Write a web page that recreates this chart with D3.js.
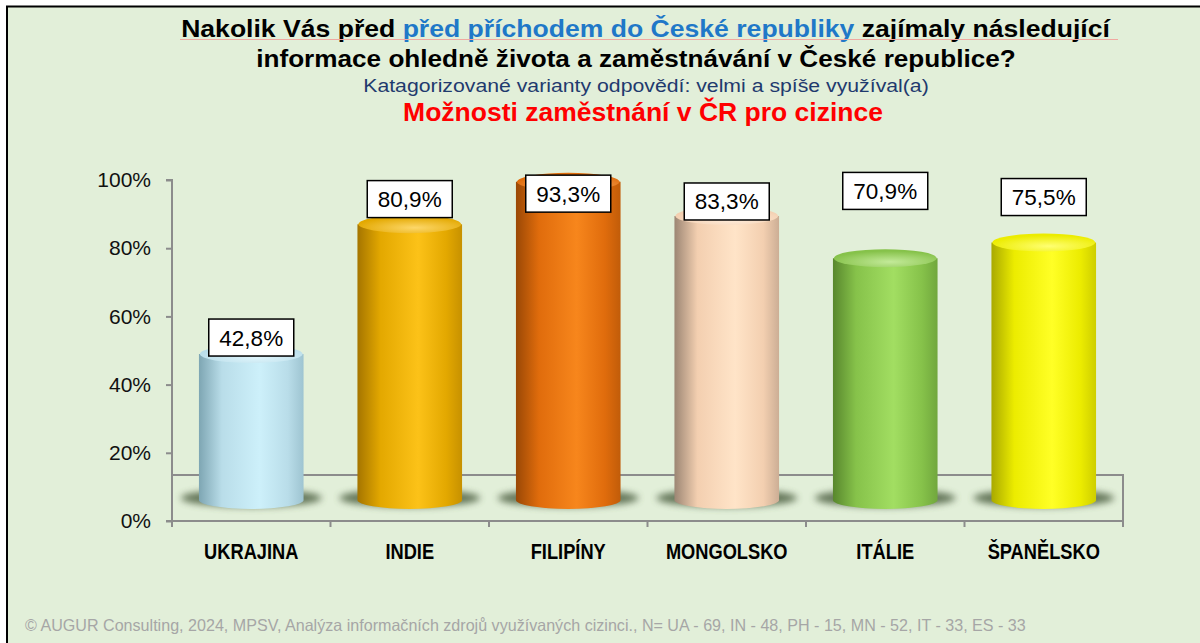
<!DOCTYPE html>
<html>
<head>
<meta charset="utf-8">
<script src="https://cdn.jsdelivr.net/npm/d3@7"></script>
<style>
  body { margin: 0; background: #ffffff; }
  text { font-family: Arial, "Liberation Sans", sans-serif; }
</style>
</head>
<body>
<div id="chart"></div>
<script>
var svgWidth = 1200;
var svgHeight = 643;

// data
var countries = ["UKRAJINA", "INDIE", "FILIPÍNY", "MONGOLSKO", "ITÁLIE", "ŠPANĚLSKO"];
var values = [42.8, 80.9, 93.3, 83.3, 70.9, 75.5];
var valueLabels = ["42,8%", "80,9%", "93,3%", "83,3%", "70,9%", "75,5%"];
// where the (hand placed) labels sit, in axis units
var labelAt = [53.8, 94.4, 96.0, 93.7, 96.8, 95.0];
var yTicks = [0, 20, 40, 60, 80, 100];

// cylinder colours: dark edge, base, highlight
var palette = [
  ["#7ea6b3", "#b9dde9", "#cdf0fa"],
  ["#a57500", "#e3a800", "#fcc218"],
  ["#9a4806", "#e06c0c", "#f7861c"],
  ["#9c8674", "#f3cfb0", "#ffe4c8"],
  ["#58872d", "#86c24a", "#a2de62"],
  ["#a9a900", "#ecec00", "#ffff26"]
];

var svg = d3.select("#chart")
  .append("svg")
  .attr("width", svgWidth)
  .attr("height", svgHeight);

// stretch a text horizontally so it covers the given width
function fitX(sel, cx, width) {
  var w = sel.node().getComputedTextLength();
  var s = width / w;
  sel.attr("transform", "translate(" + cx + ",0) scale(" + s + ",1) translate(" + (-cx) + ",0)");
}

svg.append("rect")
  .attr("x", 6).attr("y", 6)
  .attr("width", svgWidth - 6).attr("height", svgHeight - 6)
  .attr("fill", "#e2efd9");

// frame lines (top and left only)
svg.append("line").attr("x1", 6).attr("x2", svgWidth).attr("y1", 6.5).attr("y2", 6.5)
  .attr("stroke", "#000").attr("stroke-width", 2);
svg.append("line").attr("x1", 7).attr("x2", 7).attr("y1", 6).attr("y2", svgHeight)
  .attr("stroke", "#000").attr("stroke-width", 2);

// titles
var t1 = svg.append("text").attr("x", 645.5).attr("y", 37)
  .attr("text-anchor", "middle").attr("font-size", 23).attr("font-weight", "bold");
t1.append("tspan").attr("fill", "#000").text("Nakolik Vás před ");
t1.append("tspan").attr("fill", "#1f78c8").text("před příchodem do České republiky");
t1.append("tspan").attr("fill", "#000").text(" zajímaly následující");
fitX(t1, 645.5, 929);

svg.append("line").attr("x1", 180).attr("x2", 1118).attr("y1", 39.5).attr("y2", 39.5)
  .attr("stroke", "#f0a8a0").attr("stroke-width", 1);

var t2 = svg.append("text").attr("x", 636).attr("y", 67)
  .attr("text-anchor", "middle").attr("font-size", 23).attr("font-weight", "bold")
  .attr("fill", "#000")
  .text("informace ohledně života a zaměstnávání v České republice?");
fitX(t2, 636, 760);

var t3 = svg.append("text").attr("x", 646).attr("y", 92)
  .attr("text-anchor", "middle").attr("font-size", 17.5)
  .attr("fill", "#1f3a6e")
  .text("Katagorizované varianty odpovědí: velmi a spíše využíval(a)");
fitX(t3, 646, 566);

var t4 = svg.append("text").attr("x", 643).attr("y", 121)
  .attr("text-anchor", "middle").attr("font-size", 25).attr("font-weight", "bold")
  .attr("fill", "#ff0000")
  .text("Možnosti zaměstnání v ČR pro cizince");
fitX(t4, 643, 480);

// scales
var x = d3.scaleBand().domain(countries).range([172, 1123]);
var y = d3.scaleLinear().domain([0, 100]).range([521, 180]);
var depth = 46;          // floor depth in px
var mid = 21;            // cylinders stand in the middle of the floor

var axisColor = "#8c8c8c";
var chart = svg.append("g");

// floor / back wall outline
chart.append("path")
  .attr("d", "M" + x.range()[0] + "," + (y(0) - depth) + "H" + x.range()[1] + "V" + y(0))
  .attr("fill", "none").attr("stroke", axisColor).attr("stroke-width", 2);

// y axis
var yAxis = d3.axisLeft(y).tickValues(yTicks).tickSize(6).tickFormat(d => d + "%");
var yg = chart.append("g").attr("transform", "translate(" + x.range()[0] + ",0)").call(yAxis);
yg.select(".domain").attr("stroke", axisColor).attr("stroke-width", 2)
  .attr("d", "M-6," + y(100) + "H0V" + y(0) + "H-6");
yg.selectAll(".tick line").attr("stroke", axisColor).attr("stroke-width", 2);
yg.selectAll(".tick text").attr("font-size", 21).attr("fill", "#111")
  .attr("x", -21).attr("font-family", "Arial, 'Liberation Sans', sans-serif");

// x axis
var xAxis = d3.axisBottom(x).tickSize(0).tickFormat("");
var xg = chart.append("g").attr("transform", "translate(0," + y(0) + ")").call(xAxis);
xg.select(".domain").attr("stroke", axisColor).attr("stroke-width", 2)
  .attr("d", "M" + (x.range()[0] - 6) + ",0H" + x.range()[1]);
chart.selectAll(".xsep")
  .data(d3.range(countries.length + 1))
  .enter().append("line")
  .attr("x1", i => x.range()[0] + i * x.bandwidth())
  .attr("x2", i => x.range()[0] + i * x.bandwidth())
  .attr("y1", y(0)).attr("y2", y(0) + 6)
  .attr("stroke", axisColor).attr("stroke-width", 2);

chart.selectAll(".cat")
  .data(countries)
  .enter().append("text")
  .attr("x", d => x(d) + x.bandwidth() / 2)
  .attr("y", 559)
  .attr("text-anchor", "middle")
  .attr("font-size", 22).attr("font-weight", "bold")
  .attr("fill", "#000")
  .text(d => d)
  .each(function (d) {
    var cx = x(d) + x.bandwidth() / 2;
    d3.select(this).attr("transform", "translate(" + cx + ",0) scale(0.83,1) translate(" + (-cx) + ",0)");
  });

// gradients
var defs = svg.append("defs");
defs.append("filter").attr("id", "blur")
  .attr("x", "-30%").attr("y", "-80%").attr("width", "160%").attr("height", "260%")
  .append("feGaussianBlur").attr("stdDeviation", 3.5);

palette.forEach(function (c, i) {
  var g = defs.append("linearGradient").attr("id", "body" + i)
    .attr("x1", "0%").attr("x2", "100%").attr("y1", "0%").attr("y2", "0%");
  g.append("stop").attr("offset", "0%").attr("stop-color", c[0]);
  g.append("stop").attr("offset", "22%").attr("stop-color", c[1]);
  g.append("stop").attr("offset", "58%").attr("stop-color", c[2]);
  g.append("stop").attr("offset", "85%").attr("stop-color", c[1]);
  g.append("stop").attr("offset", "100%").attr("stop-color", d3.interpolateRgb(c[1], c[0])(0.45));

  var r = defs.append("radialGradient").attr("id", "top" + i)
    .attr("cx", "55%").attr("cy", "70%").attr("r", "60%");
  r.append("stop").attr("offset", "0%").attr("stop-color", d3.interpolateRgb(c[2], "#fff")(0.35));
  r.append("stop").attr("offset", "100%").attr("stop-color", c[1]);
});

// cylinders
var cylW = x.bandwidth() * 0.66;
var ry = 9;
var base = y(0) - mid;

var cyl = chart.selectAll(".cyl")
  .data(countries)
  .enter().append("g")
  .attr("class", "cyl");

cyl.append("ellipse")
  .attr("cx", d => x(d) + x.bandwidth() / 2)
  .attr("cy", base - 2)
  .attr("rx", cylW / 2 + 18)
  .attr("ry", 9)
  .attr("fill", "#56694c")
  .attr("opacity", 0.9)
  .attr("filter", "url(#blur)");

cyl.append("path")
  .attr("d", function (d, i) {
    var cx = x(d) + x.bandwidth() / 2;
    var top = base - (y(0) - y(values[i]));
    var l = cx - cylW / 2, r = cx + cylW / 2;
    return "M" + l + "," + top + "V" + base +
      "A" + (cylW / 2) + "," + ry + " 0 0 0 " + r + "," + base +
      "V" + top + "Z";
  })
  .attr("fill", (d, i) => "url(#body" + i + ")");

cyl.append("ellipse")
  .attr("cx", d => x(d) + x.bandwidth() / 2)
  .attr("cy", (d, i) => base - (y(0) - y(values[i])))
  .attr("rx", cylW / 2 - 1)
  .attr("ry", ry)
  .attr("fill", (d, i) => "url(#top" + i + ")");

// value labels
var lab = chart.selectAll(".lab")
  .data(countries)
  .enter().append("g")
  .attr("transform", (d, i) => "translate(" + (x(d) + x.bandwidth() / 2) + "," + y(labelAt[i]) + ")");

lab.append("rect")
  .attr("x", -42.5).attr("y", -18.5)
  .attr("width", 85).attr("height", 37)
  .attr("fill", "#fff").attr("stroke", "#000").attr("stroke-width", 1.5);

lab.append("text")
  .attr("text-anchor", "middle")
  .attr("y", 8)
  .attr("font-size", 22.5)
  .attr("fill", "#000")
  .text((d, i) => valueLabels[i]);

// footer
var foot = svg.append("text").attr("x", 25).attr("y", 631)
  .attr("font-size", 16.5).attr("fill", "#a6a6a6")
  .text("© AUGUR Consulting, 2024, MPSV, Analýza informačních zdrojů využívaných cizinci., N= UA - 69, IN - 48, PH - 15, MN - 52, IT - 33, ES - 33");
fitX(foot, 25, 1001);
</script>
</body>
</html>
